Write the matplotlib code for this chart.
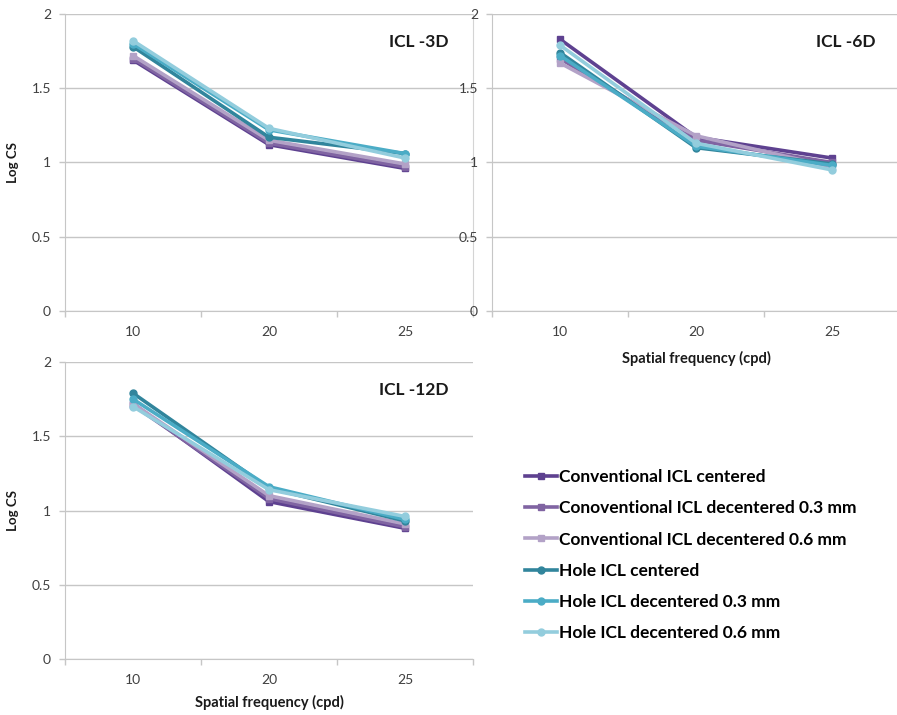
import matplotlib
matplotlib.use("Agg")
import matplotlib.pyplot as plt
from matplotlib.lines import Line2D

plt.rcParams['font.family'] = ['Lato', 'DejaVu Sans']

# Spatial frequencies (categorical x axis)
freqs = ["10", "20", "25"]

series_names = [
    "Conventional ICL centered",
    "Conoventional ICL decentered 0.3 mm",
    "Conventional ICL decentered 0.6 mm",
    "Hole ICL centered",
    "Hole ICL decentered 0.3 mm",
    "Hole ICL decentered 0.6 mm",
]
series_colors = ["#5E4190", "#8064A2", "#B3A2C7", "#31859C", "#4BACC6", "#93CDDD"]
series_markers = ["s", "s", "s", "o", "o", "o"]

# Log CS per panel, one list per series (order as series_names)
icl_3d = [
    [1.69, 1.12, 0.96],
    [1.70, 1.13, 0.97],
    [1.72, 1.15, 0.99],
    [1.78, 1.17, 1.06],
    [1.80, 1.22, 1.06],
    [1.82, 1.23, 1.03],
]
icl_6d = [
    [1.83, 1.17, 1.03],
    [1.70, 1.15, 1.00],
    [1.67, 1.18, 0.97],
    [1.74, 1.10, 0.99],
    [1.72, 1.11, 0.98],
    [1.79, 1.13, 0.95],
]
icl_12d = [
    [1.72, 1.06, 0.88],
    [1.71, 1.08, 0.89],
    [1.72, 1.10, 0.91],
    [1.79, 1.15, 0.93],
    [1.75, 1.16, 0.94],
    [1.70, 1.14, 0.96],
]

panel_titles = ["ICL -3D", "ICL -6D", "ICL -12D"]
y_ticks = [0, 0.5, 1, 1.5, 2]
y_tick_labels = ["0", "0.5", "1", "1.5", "2"]

W, H = 897, 715
fig = plt.figure(figsize=(W / 100, H / 100), dpi=100)

grid_col = "#C6C6C6"
text_col = "#404040"


def frac(x0, y0, x1, y1):
    return [x0 / W, 1 - y1 / H, (x1 - x0) / W, (y1 - y0) / H]


def style_panel(ax, title, ylabel, xlabel, right_border, xlabel_pad=6):
    ax.set_xlim(-0.5, 2.5)
    ax.set_ylim(0, 2)
    ax.set_yticks(y_ticks)
    ax.set_yticklabels(y_tick_labels)
    ax.set_xticks(range(len(freqs)))
    ax.set_xticklabels(freqs)
    ax.set_xticks([-0.5, 0.5, 1.5, 2.5], minor=True)
    ax.tick_params(axis="x", which="major", length=0, pad=11,
                   labelsize=10, labelcolor=text_col)
    ax.tick_params(axis="x", which="minor", length=4, color=grid_col, width=1)
    ax.tick_params(axis="y", which="major", length=4, color=grid_col, width=1,
                   labelsize=10, labelcolor=text_col, pad=6)
    ax.grid(axis="y", color=grid_col, linewidth=1.0)
    ax.set_axisbelow(True)
    ax.spines["top"].set_visible(False)
    ax.spines["right"].set_visible(right_border)
    ax.spines["right"].set_color("#D4D4D4")
    ax.spines["left"].set_color(grid_col)
    ax.spines["bottom"].set_color(grid_col)
    ax.text(0.94, 0.905, title, transform=ax.transAxes, ha="right", va="center",
            fontsize=12.5, fontweight="bold", color="#1A1A1A")
    if ylabel:
        ax.set_ylabel("Log CS", fontsize=9.5, fontweight="bold",
                      color="#1A1A1A", labelpad=9)
    if xlabel:
        ax.set_xlabel("Spatial frequency (cpd)", fontsize=10.5,
                      fontweight="bold", color="#1A1A1A", labelpad=xlabel_pad)


def draw_series(ax, data):
    for vals, col, mk in zip(data, series_colors, series_markers):
        ax.plot(range(len(freqs)), vals, color=col, linewidth=2.6,
                marker=mk, markersize=5, markerfacecolor=col,
                markeredgecolor=col, solid_joinstyle="round", zorder=3)


ax1 = fig.add_axes(frac(65, 14, 473, 311))
draw_series(ax1, icl_3d)
style_panel(ax1, panel_titles[0], True, False, True)

ax2 = fig.add_axes(frac(492, 14, 900, 311))
draw_series(ax2, icl_6d)
style_panel(ax2, panel_titles[1], False, True, False, xlabel_pad=9)

ax3 = fig.add_axes(frac(65, 362, 473, 659))
draw_series(ax3, icl_12d)
style_panel(ax3, panel_titles[2], True, True, False)

handles = [Line2D([0], [0], color=c, marker=m, linewidth=2.6, markersize=5)
           for c, m in zip(series_colors, series_markers)]
fig.legend(handles, series_names, loc="upper left",
           bbox_to_anchor=(525 / W, 1 - 469 / H), frameon=False,
           prop={"family": ["Lato", "DejaVu Sans"], "weight": "bold", "size": 12.5},
           handlelength=1.85, handletextpad=0.1, labelspacing=0.88,
           borderaxespad=0, borderpad=0)

fig.savefig("out.png", dpi=100, facecolor="white")
